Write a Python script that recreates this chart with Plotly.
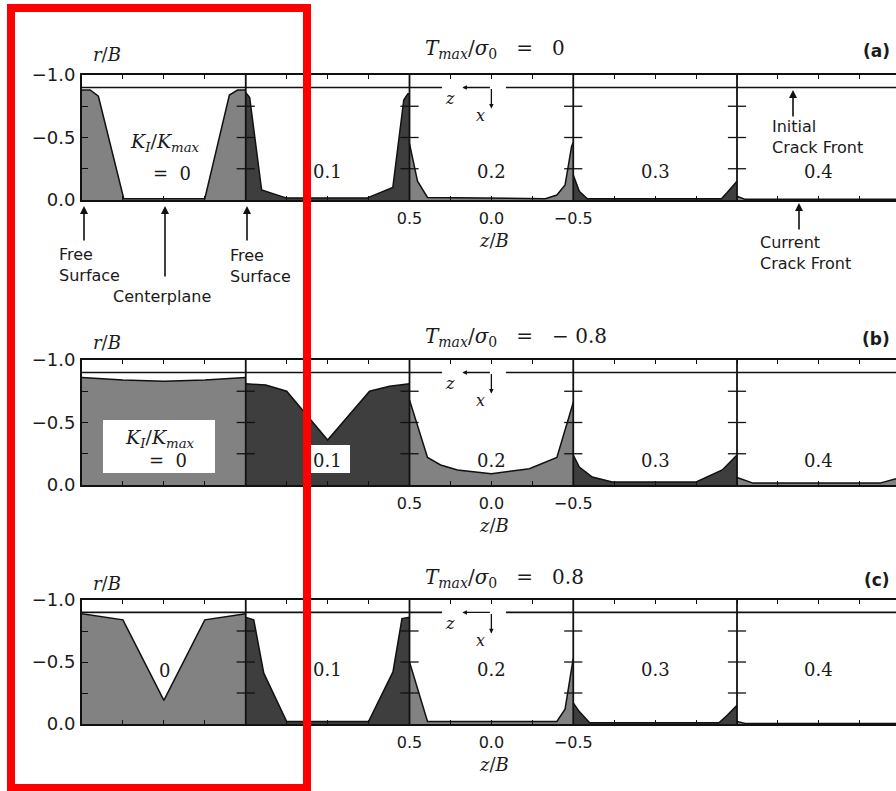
import plotly.graph_objects as go

W, H = 896, 791

# ---------------- data ----------------
SUB_LABELS = ["0", "0.1", "0.2", "0.3", "0.4"]
T_VALUES = ["0", "−&nbsp;0.8", "0.8"]
PANEL_TAGS = ["(a)", "(b)", "(c)"]
X_TICK_LABELS = ["0.5", "0.0", "−0.5"]
Y_TICK_VALS = [0, -0.25, -0.5, -0.75, -1.0]
Y_TICK_TEXT = ["0.0", "", "−0.5", "", "−1.0"]
INITIAL_FRONT = -0.9

# local z/B (0.5 -> -0.5 across each sub-panel) and r/B of the crack-front profile
# panel (a): Tmax/sigma0 = 0
A_Z = [
    [0.5, 0.45, 0.40, 0.245, -0.25, -0.40, -0.45, -0.5],
    [0.5, 0.476, 0.403, 0.25, -0.239, -0.398, -0.465, -0.49, -0.5],
    [0.5, 0.451, 0.39, -0.33, -0.40, -0.45, -0.49, -0.5],
    [0.5, 0.463, 0.414, -0.405, -0.44, -0.482, -0.5],
    [0.5, 0.45, -0.5],
]
A_R = [
    [-0.88, -0.88, -0.83, -0.01, -0.01, -0.84, -0.88, -0.88],
    [-0.86, -0.82, -0.08, -0.015, -0.015, -0.10, -0.80, -0.85, -0.85],
    [-0.45, -0.15, -0.02, -0.01, -0.04, -0.12, -0.43, -0.46],
    [-0.20, -0.07, -0.01, -0.01, -0.06, -0.12, -0.15],
    [-0.03, -0.005, -0.005],
]
# panel (b): Tmax/sigma0 = -0.8
B_Z = [
    [0.5, 0.25, 0.0, -0.25, -0.5],
    [0.5, 0.378, 0.25, 0.0, -0.256, -0.378, -0.5],
    [0.5, 0.39, 0.31, 0.207, 0.0, -0.232, -0.40, -0.5],
    [0.5, 0.463, 0.384, 0.262, -0.251, -0.41, -0.5],
    [0.5, 0.402, -0.373, -0.471, -0.5],
]
B_R = [
    [-0.86, -0.84, -0.83, -0.84, -0.86],
    [-0.81, -0.80, -0.75, -0.36, -0.75, -0.79, -0.81],
    [-0.68, -0.22, -0.16, -0.12, -0.09, -0.13, -0.22, -0.66],
    [-0.24, -0.144, -0.064, -0.024, -0.024, -0.12, -0.24],
    [-0.06, -0.015, -0.015, -0.05, -0.08],
]
# panel (c): Tmax/sigma0 = 0.8
C_Z = [
    [0.5, 0.25, 0.0, -0.25, -0.5],
    [0.5, 0.451, 0.39, 0.25, -0.25, -0.399, -0.454, -0.5],
    [0.5, 0.39, -0.40, -0.45, -0.5],
    [0.5, 0.463, 0.40, -0.39, -0.44, -0.5],
    [0.5, 0.45, -0.5],
]
C_R = [
    [-0.89, -0.84, -0.19, -0.84, -0.89],
    [-0.86, -0.84, -0.41, -0.02, -0.02, -0.42, -0.85, -0.86],
    [-0.50, -0.02, -0.02, -0.12, -0.53],
    [-0.17, -0.10, -0.01, -0.01, -0.07, -0.15],
    [-0.02, -0.005, -0.005],
]
PANELS_Z = [A_Z, B_Z, C_Z]
PANELS_R = [A_R, B_R, C_R]

# ---------------- layout geometry (pixels) ----------------
X_LEFT = 82
SUB_W = 163.75
PANEL_TOP = [75, 360, 600]
PANEL_BOT = [200, 485, 724]
S_MAX = (W - X_LEFT) / SUB_W

MED = "#828282"
DARK = "#3e3e3e"
TXT = "#1a1a1a"
SERIF = "DejaVu Serif"
SANS = "DejaVu Sans"


def px(x):
    return x / W


def py(y):
    return 1 - y / H


fig = go.Figure()
annotations = []
shapes = []


def txt(x, y, text, size=17, family=SERIF, xanchor="center", align="center", color=TXT):
    annotations.append(dict(x=px(x), y=py(y), xref="paper", yref="paper", text=text,
                            showarrow=False, xanchor=xanchor, yanchor="middle", align=align,
                            font=dict(family=family, size=size, color=color)))


def arrow(x, yh, ax=0, ay=0, size=1.0, width=1.6):
    annotations.append(dict(x=px(x), y=py(yh), xref="paper", yref="paper", text="",
                            showarrow=True, ax=ax, ay=ay, arrowhead=2, arrowsize=size,
                            arrowwidth=width, arrowcolor="#111"))


for p in range(3):
    suffix = "" if p == 0 else str(p + 1)
    xname, yname = "x" + suffix, "y" + suffix
    for k in range(5):
        s = [k + 0.5 - z for z in PANELS_Z[p][k]]
        fig.add_trace(go.Scatter(
            x=s, y=PANELS_R[p][k], mode="lines", fill="tozeroy",
            fillcolor=MED if k % 2 == 0 else DARK,
            line=dict(color="#111", width=1.5), xaxis=xname, yaxis=yname,
            showlegend=False, hoverinfo="skip"))
    # cross ticks on the sub-panel boundaries
    bx, by = [], []
    for b in range(1, 6):
        for lv in (-0.25, -0.5, -0.75):
            bx.append(b)
            by.append(lv)
    fig.add_trace(go.Scatter(
        x=bx, y=by, mode="markers", cliponaxis=False,
        marker=dict(symbol="line-ew", size=13, line=dict(color="#111", width=1.3)),
        xaxis=xname, yaxis=yname, showlegend=False, hoverinfo="skip"))

    # boundary lines
    for b in range(1, 5):
        shapes.append(dict(type="line", xref=xname, yref=yname, x0=b, x1=b, y0=0, y1=-1,
                           line=dict(color="#111", width=1.8), layer="above"))

    # initial crack front line with gap for the z-x indicator
    gap0 = (442 - X_LEFT) / SUB_W
    gap1 = (506 - X_LEFT) / SUB_W
    shapes.append(dict(type="line", xref=xname, yref=yname, x0=0, x1=gap0,
                       y0=INITIAL_FRONT, y1=INITIAL_FRONT, line=dict(color="#111", width=1.6),
                       layer="above"))
    shapes.append(dict(type="line", xref=xname, yref=yname, x0=gap1, x1=S_MAX,
                       y0=INITIAL_FRONT, y1=INITIAL_FRONT, line=dict(color="#111", width=1.6),
                       layer="above"))

    top, bot = PANEL_TOP[p], PANEL_BOT[p]
    yfront = bot + INITIAL_FRONT * (bot - top)
    xc = X_LEFT + 2.5 * SUB_W

    # z-x coordinate indicator
    arrow(xc - 29, yfront, ax=29, ay=0, size=0.7, width=1.3)
    arrow(xc, yfront + 21, ax=0, ay=-21, size=0.7, width=1.3)
    txt(450, yfront + 11, "<i>z</i>", size=16)
    txt(481, yfront + 28, "<i>x</i>", size=16)

    # axes
    ticks = [k + q * 0.25 for k in range(5) for q in range(5) if k + q * 0.25 <= S_MAX]
    ticks = sorted(set(ticks))
    ticktext = []
    for t in ticks:
        if abs(t - 2) < 1e-9:
            ticktext.append(X_TICK_LABELS[0])
        elif abs(t - 2.5) < 1e-9:
            ticktext.append(X_TICK_LABELS[1])
        elif abs(t - 3) < 1e-9:
            ticktext.append(X_TICK_LABELS[2])
        else:
            ticktext.append("")
    fig.layout["xaxis" + suffix] = dict(
        domain=[px(X_LEFT), 1.0], range=[0, S_MAX], anchor=yname, automargin=False,
        showgrid=False, zeroline=False, showline=True, linecolor="#111", linewidth=1.9,
        mirror="ticks", ticks="inside", ticklen=4, tickwidth=1.2, tickcolor="#111",
        tickvals=ticks, ticktext=ticktext, ticklabelstandoff=3,
        tickfont=dict(family=SANS, size=16, color=TXT))
    fig.layout["yaxis" + suffix] = dict(
        domain=[py(bot), py(top)], range=[0, -1], anchor=xname, automargin=False,
        showgrid=False, zeroline=False, showline=True, linecolor="#111", linewidth=1.9,
        ticks="inside", ticklen=6, tickwidth=1.2, tickcolor="#111",
        tickvals=Y_TICK_VALS, ticktext=Y_TICK_TEXT, ticklabelstandoff=1,
        tickfont=dict(family=SANS, size=18, color=TXT))

    # titles and tags
    title_y = [49, 337, 578][p]
    txt(423, title_y,
        "<i>T</i><sub><i>max</i></sub>/<i>σ</i><sub>0</sub>&nbsp;&nbsp;&nbsp;=&nbsp;&nbsp;&nbsp;"
        + T_VALUES[p], size=20, xanchor="left")
    txt(892, title_y + 2, "<b>" + PANEL_TAGS[p] + "</b>", size=17, family=SANS,
        xanchor="right")
    txt(107, title_y + 5, "<i>r</i>/<i>B</i>", size=18)
    txt(494, bot + 40, "<i>z</i>/<i>B</i>", size=18)

# sub-panel labels
KLAB = "<i>K</i><sub><i>I</i></sub>/<i>K</i><sub><i>max</i></sub>"
# panel a
txt(165, 143, KLAB, size=19)
txt(172, 173, "=&nbsp;&nbsp;0", size=18)
for k in range(1, 5):
    txt(X_LEFT + (k + 0.5) * SUB_W, 172, SUB_LABELS[k], size=18)
# panel b
shapes.append(dict(type="rect", xref="paper", yref="paper", x0=px(103), x1=px(215),
                   y0=py(473), y1=py(420), fillcolor="white", line=dict(width=0),
                   layer="above"))
shapes.append(dict(type="rect", xref="paper", yref="paper", x0=px(310), x1=px(350),
                   y0=py(473), y1=py(445), fillcolor="white", line=dict(width=0),
                   layer="above"))
txt(160, 438, KLAB, size=19)
txt(168, 460, "=&nbsp;&nbsp;0", size=18)
for k in range(1, 5):
    txt(X_LEFT + (k + 0.5) * SUB_W, 460, SUB_LABELS[k], size=18)
# panel c
txt(164, 670, SUB_LABELS[0], size=18)
for k in range(1, 5):
    txt(X_LEFT + (k + 0.5) * SUB_W, 669, SUB_LABELS[k], size=18)

# explanatory arrows and labels (panel a)
arrow(84, 206, ay=36)
arrow(165, 206, ay=72)
arrow(247, 206, ay=36)
txt(57, 265, "Free<br>Surface", size=16, family=SANS, xanchor="left", align="left")
txt(228, 266, "Free<br>Surface", size=16, family=SANS, xanchor="left", align="left")
txt(162, 297, "Centerplane", size=16, family=SANS)
arrow(793, 90, ay=28)
arrow(799, 203, ay=28)
txt(770, 137, "Initial<br>Crack Front", size=16, family=SANS, xanchor="left", align="left")
txt(758, 253, "Current<br>Crack Front", size=16, family=SANS, xanchor="left", align="left")

# red highlight frame
shapes.append(dict(type="rect", xref="paper", yref="paper", x0=px(11), x1=px(307),
                   y0=py(788), y1=py(8), line=dict(color="#ff0000", width=8),
                   fillcolor="rgba(0,0,0,0)", layer="above"))

fig.update_layout(width=W, height=H, autosize=False,
                  margin=dict(l=0, r=0, t=0, b=0, pad=0, autoexpand=False),
                  paper_bgcolor="white", plot_bgcolor="white",
                  annotations=annotations, shapes=shapes, showlegend=False)

fig.write_html("out.html", config={"displayModeBar": False},
               post_script="document.body.style.margin='0';")
